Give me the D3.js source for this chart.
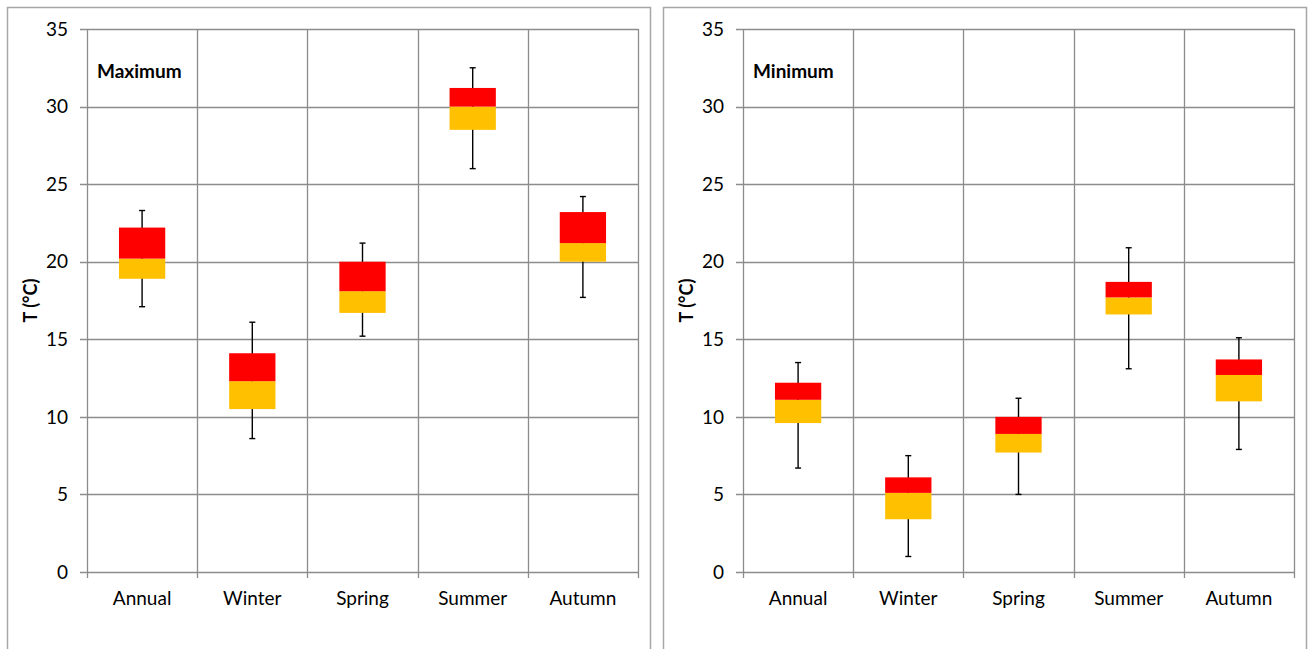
<!DOCTYPE html>
<html>
<head>
<meta charset="utf-8">
<script src="https://cdn.jsdelivr.net/npm/d3@7"></script>
<style>
  body { margin: 0; background: #fff; }
  svg { display: block; font-family: Lato, "Open Sans", sans-serif; }
</style>
</head>
<body>
<svg id="chart" width="1308" height="649"></svg>
<script>
// seasons on the x axis
const categories = ['Annual', 'Winter', 'Spring', 'Summer', 'Autumn'];
const yTicks = [0, 5, 10, 15, 20, 25, 30, 35];

// Maximum temperature: whisker low, box low, median, box high, whisker high
const maxLow = [17.1, 8.6, 15.2, 26.0, 17.7];
const maxQ1 = [18.9, 10.5, 16.7, 28.5, 20.0];
const maxMed = [20.2, 12.3, 18.1, 30.0, 21.2];
const maxQ3 = [22.2, 14.1, 20.0, 31.2, 23.2];
const maxHigh = [23.3, 16.1, 21.2, 32.5, 24.2];

// Minimum temperature
const minLow = [6.7, 1.0, 5.0, 13.1, 7.9];
const minQ1 = [9.6, 3.4, 7.7, 16.6, 11.0];
const minMed = [11.1, 5.1, 8.9, 17.7, 12.7];
const minQ3 = [12.2, 6.1, 10.0, 18.7, 13.7];
const minHigh = [13.5, 7.5, 11.2, 20.9, 15.1];

const svg = d3.select('#chart');

function drawPanel(offsetX, title, low, q1, med, q3, high) {
  const g = svg.append('g').attr('transform', 'translate(' + offsetX + ',0)');

  // panel frame
  g.append('rect')
    .attr('x', 7.5).attr('y', 7.5)
    .attr('width', 643).attr('height', 660)
    .attr('fill', 'none').attr('stroke', '#a6a6a6').attr('stroke-width', 1.5);

  const x = d3.scaleBand().domain(categories).range([87, 638]).padding(0);
  const y = d3.scaleLinear().domain([0, 35]).range([572, 29]);

  // horizontal grid + left ticks
  g.selectAll('.hgrid').data(yTicks).enter().append('line')
    .attr('x1', 80).attr('x2', 638)
    .attr('y1', d => Math.round(y(d)) + 0.5).attr('y2', d => Math.round(y(d)) + 0.5)
    .attr('stroke', '#8c8c8c').attr('stroke-width', 1.3);

  // vertical grid at band edges, with small ticks below the axis
  const edges = categories.map(c => x(c)).concat([x.range()[1]]);
  g.selectAll('.vgrid').data(edges).enter().append('line')
    .attr('x1', d => Math.round(d) + 0.5).attr('x2', d => Math.round(d) + 0.5)
    .attr('y1', y(35)).attr('y2', y(0) + 6)
    .attr('stroke', '#8c8c8c').attr('stroke-width', 1.3);

  // y tick labels
  g.selectAll('.ylab').data(yTicks).enter().append('text')
    .attr('x', 68).attr('y', d => y(d)).attr('dy', '0.35em')
    .attr('text-anchor', 'end').attr('font-size', 19).attr('fill', '#000')
    .text(d => d);

  // x labels
  g.selectAll('.xlab').data(categories).enter().append('text')
    .attr('x', d => x(d) + x.bandwidth() / 2).attr('y', 605)
    .attr('text-anchor', 'middle').attr('font-size', 19).attr('fill', '#000')
    .text(d => d);

  // axis title
  g.append('text')
    .attr('transform', 'translate(37,' + y(17.5) + ') rotate(-90)')
    .attr('text-anchor', 'middle').attr('font-size', 18).attr('font-weight', 'bold')
    .text('T (°C)');

  g.append('text')
    .attr('x', 97).attr('y', 78)
    .attr('font-size', 19).attr('font-weight', 'bold')
    .text(title);

  const bw = x.bandwidth() * 0.42;
  const cx = i => x(categories[i]) + x.bandwidth() / 2;
  const idx = categories.map((c, i) => i);

  // whiskers
  g.selectAll('.whisk').data(idx).enter().append('line')
    .attr('x1', cx).attr('x2', cx)
    .attr('y1', i => y(high[i])).attr('y2', i => y(low[i]))
    .attr('stroke', '#000').attr('stroke-width', 1.4);
  [high, low].forEach(arr => {
    g.selectAll(null).data(idx).enter().append('line')
      .attr('x1', i => cx(i) - 3).attr('x2', i => cx(i) + 3)
      .attr('y1', i => y(arr[i])).attr('y2', i => y(arr[i]))
      .attr('stroke', '#000').attr('stroke-width', 1.4);
  });

  // lower box (q1 - median)
  g.selectAll('.lowbox').data(idx).enter().append('rect')
    .attr('x', i => cx(i) - bw / 2).attr('width', bw)
    .attr('y', i => y(med[i])).attr('height', i => y(q1[i]) - y(med[i]))
    .attr('fill', '#ffc000');

  // upper box (median - q3)
  g.selectAll('.highbox').data(idx).enter().append('rect')
    .attr('x', i => cx(i) - bw / 2).attr('width', bw)
    .attr('y', i => y(q3[i])).attr('height', i => y(med[i]) - y(q3[i]))
    .attr('fill', '#ff0000');
}

drawPanel(0, 'Maximum', maxLow, maxQ1, maxMed, maxQ3, maxHigh);
drawPanel(656, 'Minimum', minLow, minQ1, minMed, minQ3, minHigh);
</script>
</body>
</html>
